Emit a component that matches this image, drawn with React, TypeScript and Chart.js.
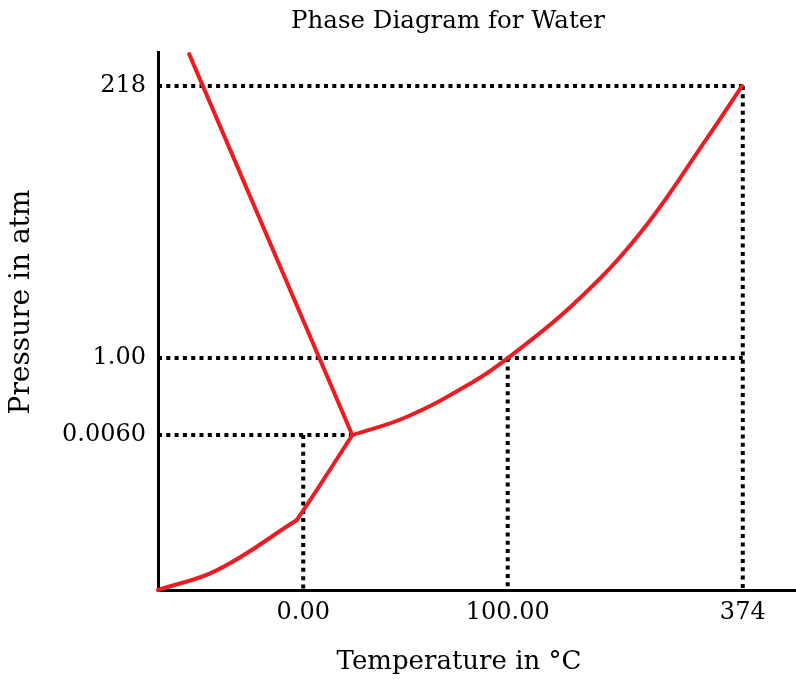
import React, { useEffect, useRef } from "react";
import { Chart, registerables } from "chart.js";

Chart.register(...registerables);

// Schematic axes: positions are in "axis percent" units (0..100 along each axis)
const xTickPositions = [22.8, 54.9, 91.8];
const xTickLabels = ["0.00", "100.00", "374"];
const yTickPositions = [28.8, 43.1, 93.7];
const yTickLabels = ["0.0060", "1.00", "218"];

// Solid–liquid (fusion) line
const fusionX = [4.9, 30.5];
const fusionY = [99.6, 28.8];

// Solid–gas (sublimation) curve: lower bowed part, then the straighter part to the triple point
const sublimationLowX = [0, 9.3, 21.8];
const sublimationLowY = [0, 3.7, 13.0];
const sublimationHighX = [21.8, 25.0, 30.5];
const sublimationHighY = [13.0, 18.7, 28.8];

// Liquid–gas (vaporization) curve
const vaporX = [30.5, 39.1, 49.5, 54.9, 65.3, 75.8, 86.2, 91.7];
const vaporY = [28.8, 32.2, 38.7, 43.1, 53.2, 66.5, 84.0, 93.7];

const titleText = "Phase Diagram for Water";
const xTitleText = "Temperature in °C";
const yTitleText = "Pressure in atm";

const FONT = "'DejaVu Serif', serif";
const RED = "#ec1c24";

function pts(xs: number[], ys: number[]) {
  return xs.map((x, i) => ({ x, y: ys[i] }));
}

export default function App() {
  const ref = useRef<HTMLCanvasElement | null>(null);

  useEffect(() => {
    document.body.style.margin = "0";
    const canvas = ref.current;
    if (!canvas) return;

    // dotted guide lines from tick positions
    const [x0, x100, x374] = xTickPositions;
    const [y006, y1, y218] = yTickPositions;
    const guides = [
      [{ x: 0, y: y218 }, { x: x374, y: y218 }],
      [{ x: x374, y: y218 }, { x: x374, y: 0 }],
      [{ x: 0, y: y1 }, { x: x374, y: y1 }],
      [{ x: x100, y: y1 }, { x: x100, y: 0 }],
      [{ x: 0, y: y006 }, { x: fusionX[1], y: y006 }],
      [{ x: x0, y: y006 }, { x: x0, y: 0 }],
    ];

    const redLine = (data: any[], tension: number) => ({
      data,
      borderColor: RED,
      borderWidth: 4,
      pointRadius: 0,
      tension,
      fill: false,
      clip: false as any,
      order: 0,
      borderCapStyle: "round" as const,
      borderJoinStyle: "round" as const,
    });

    const textPlugin = {
      id: "texts",
      afterDraw(chart: any) {
        const ctx = chart.ctx;
        ctx.save();
        ctx.fillStyle = "#000";
        ctx.textAlign = "center";
        ctx.textBaseline = "middle";
        ctx.font = `24.5px ${FONT}`;
        ctx.fillText(titleText, 448, 22);
        ctx.font = `26px ${FONT}`;
        ctx.fillText(xTitleText, 459, 662);
        ctx.translate(22, 302);
        ctx.rotate(-Math.PI / 2);
        ctx.font = `28px ${FONT}`;
        ctx.fillText(yTitleText, 0, 0);
        ctx.restore();
      },
    };

    const chart = new Chart(canvas, {
      type: "line",
      data: {
        datasets: [
          redLine(pts(fusionX, fusionY), 0),
          redLine(pts(sublimationLowX, sublimationLowY), 0.4),
          redLine(pts(sublimationHighX, sublimationHighY), 0.3),
          redLine(pts(vaporX, vaporY), 0.4),
          ...guides.map((g) => ({
            data: g,
            borderColor: "#000",
            borderWidth: 4,
            borderDash: [4, 4.3],
            pointRadius: 0,
            fill: false,
            clip: false as any,
            order: 1,
          })),
        ],
      },
      options: {
        animation: false,
        responsive: true,
        maintainAspectRatio: false,
        parsing: false,
        layout: { padding: { top: 52, right: 1, left: 0, bottom: 0 } },
        plugins: {
          legend: { display: false },
          title: { display: false },
          tooltip: { enabled: false },
        },
        scales: {
          x: {
            type: "linear",
            min: 0,
            max: 100,
            grid: { display: false, drawTicks: false },
            border: { display: true, color: "#000", width: 3 },
            afterBuildTicks: (scale: any) => {
              scale.ticks = xTickPositions.map((v) => ({ value: v }));
            },
            afterFit: (scale: any) => {
              scale.height = 89;
            },
            ticks: {
              autoSkip: false,
              maxRotation: 0,
              padding: 8,
              color: "#000",
              font: { family: FONT, size: 24 },
              callback: (_v: any, i: number) => xTickLabels[i],
            },
          },
          y: {
            type: "linear",
            min: 0,
            max: 100,
            grid: { display: false, drawTicks: false },
            border: { display: true, color: "#000", width: 3 },
            afterBuildTicks: (scale: any) => {
              scale.ticks = yTickPositions.map((v) => ({ value: v }));
            },
            afterFit: (scale: any) => {
              scale.width = 158;
            },
            ticks: {
              autoSkip: false,
              padding: 12,
              color: "#000",
              font: { family: FONT, size: 24 },
              callback: (_v: any, i: number) => yTickLabels[i],
            },
          },
        },
      },
      plugins: [textPlugin],
    });

    return () => chart.destroy();
  }, []);

  return (
    <div style={{ width: 796, height: 679, position: "relative" }}>
      <canvas ref={ref} />
    </div>
  );
}
